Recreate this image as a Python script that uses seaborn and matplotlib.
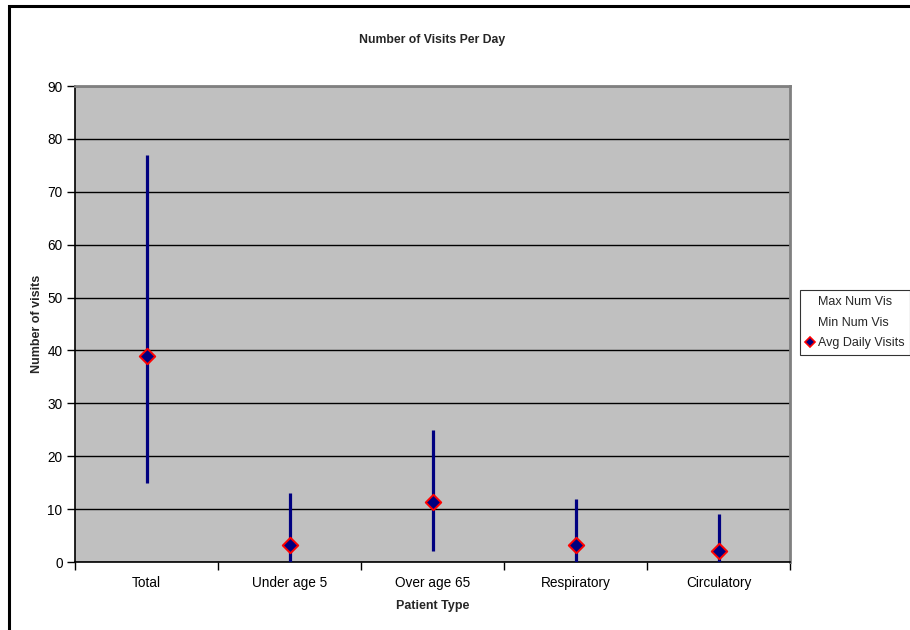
import matplotlib
matplotlib.use("Agg")
import matplotlib.pyplot as plt
from matplotlib.lines import Line2D
from matplotlib.patches import Rectangle
import seaborn as sns
import pandas as pd

categories = ["Total", "Under age 5", "Over age 65", "Respiratory", "Circulatory"]
max_visits = [77, 13, 25, 12, 9]
min_visits = [15, 0, 2, 0, 0]
avg_visits = [39, 3.3, 11.3, 3.3, 2]

df = pd.DataFrame({
    "Patient Type": categories,
    "pos": range(len(categories)),
    "Max Num Vis": max_visits,
    "Min Num Vis": min_visits,
    "Avg Daily Visits": avg_visits,
})

sns.set_theme(style="white")
plt.rcParams["font.family"] = ["Liberation Sans", "DejaVu Sans"]

fig = plt.figure(figsize=(9.1, 6.3), dpi=100)
ax = fig.add_axes([75 / 910, 1 - 562 / 630, 715 / 910, 476 / 630])
ax.set_facecolor("#C0C0C0")

# outer chart frame
fig.patches.append(Rectangle((9 / 910, -0.1), 1.1, 1 - 6 / 630 + 0.1,
                             transform=fig.transFigure, fill=False,
                             edgecolor="black", linewidth=2.2, zorder=0))

# high-low bars
ax.vlines(df["pos"], df["Min Num Vis"], df["Max Num Vis"],
          color="#000080", linewidth=2.3, zorder=3)

# daily averages
sns.scatterplot(data=df, x="pos", y="Avg Daily Visits", ax=ax, marker="D",
                s=62, color="#000080", edgecolor="#FF0000", linewidth=1.4,
                zorder=4, legend=False)

ax.set_xlim(-0.5, len(categories) - 0.5)
ax.set_ylim(0, 90)
ax.set_yticks(range(0, 91, 10))
ax.yaxis.grid(True, color="black", linewidth=1.0)
ax.set_axisbelow(True)

ax.set_xticks([i - 0.5 for i in range(len(categories) + 1)])
ax.set_xticklabels([])
ax.set_xticks(range(len(categories)), minor=True)
ax.set_xticklabels(categories, minor=True)
ax.tick_params(axis="x", which="major", direction="out", length=6, width=1, color="black", bottom=True)
ax.tick_params(axis="x", which="minor", length=0, pad=10, labelsize=9.8, labelcolor="black")
ax.tick_params(axis="y", direction="out", length=6, width=1, color="black", left=True,
               labelsize=9.8, labelcolor="black", pad=3)

for side in ["left", "bottom"]:
    ax.spines[side].set_color("black")
    ax.spines[side].set_linewidth(1.2)
for side in ["top", "right"]:
    ax.spines[side].set_color("#808080")
    ax.spines[side].set_linewidth(2)

ax.set_xlabel("Patient Type", fontsize=9, fontweight="bold", labelpad=7)
ax.set_ylabel("Number of visits", fontsize=9, fontweight="bold", labelpad=3)
fig.text(432 / 910, 1 - 40 / 630, "Number of Visits Per Day", ha="center", va="center",
         fontsize=8.8, fontweight="bold")

handles = [
    Line2D([], [], linestyle="none"),
    Line2D([], [], linestyle="none"),
    Line2D([], [], linestyle="none", marker="D", markersize=5.5,
           markerfacecolor="#000080", markeredgecolor="#FF0000", markeredgewidth=1.2),
]
leg = fig.legend(handles, ["Max Num Vis", "Min Num Vis", "Avg Daily Visits"],
                 loc="upper left", bbox_to_anchor=(800 / 910, 1 - 290 / 630),
                 fontsize=9.0, frameon=True, fancybox=False, handlelength=0.6,
                 handletextpad=0.3, borderpad=0.5, labelspacing=0.68,
                 borderaxespad=0)
leg.get_frame().set_edgecolor("black")
leg.get_frame().set_linewidth(0.8)

fig.savefig("out.png", dpi=100)
